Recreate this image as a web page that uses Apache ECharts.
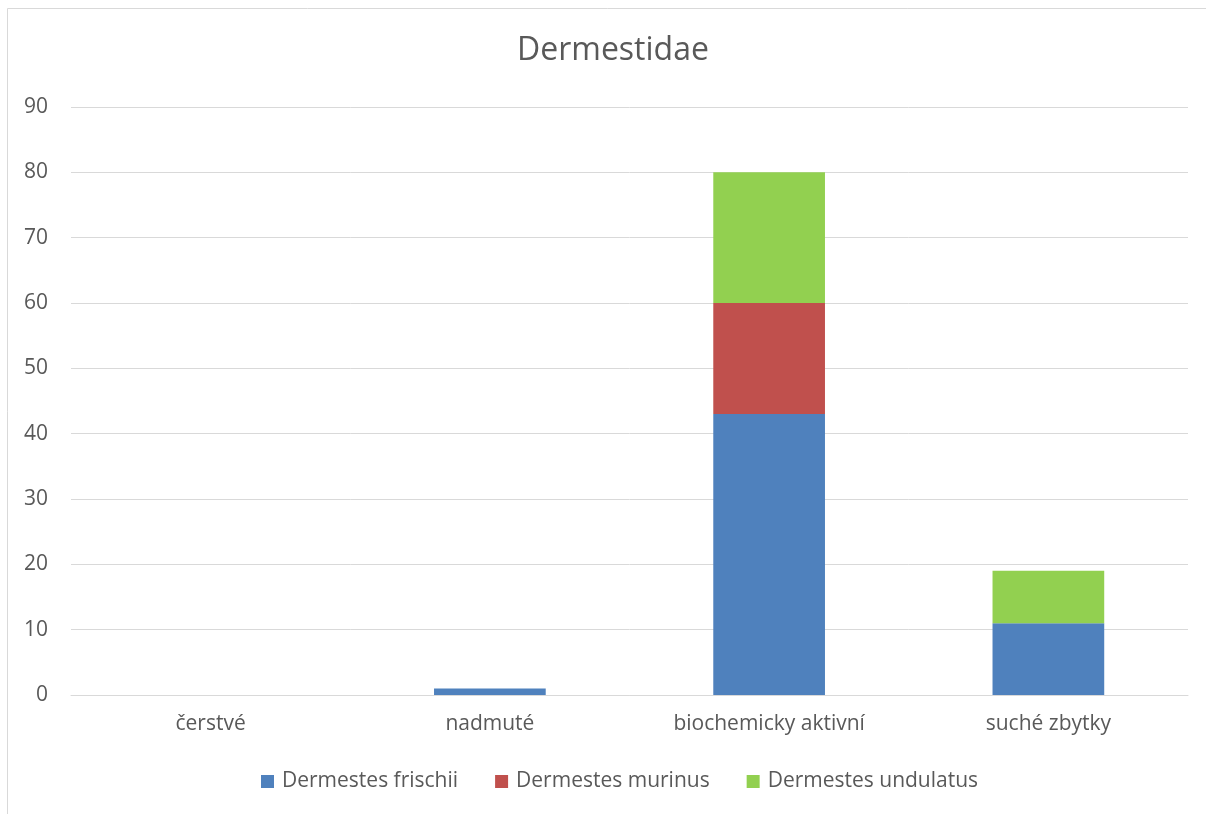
<!DOCTYPE html>
<html>
<head>
<meta charset="utf-8">
<script src="https://cdn.jsdelivr.net/npm/echarts@6/dist/echarts.min.js"></script>
<style>
  html, body { margin: 0; padding: 0; background: #ffffff; }
  #chart { width: 1206px; height: 814px; }
</style>
</head>
<body>
<div id="chart"></div>
<script>
// Decomposition stages and counts of Dermestidae species found at each
const categories = ['čerstvé', 'nadmuté', 'biochemicky aktivní', 'suché zbytky'];
const frischii = [0, 1, 43, 11];
const murinus = [0, 0, 17, 0];
const undulatus = [0, 0, 20, 8];
const seriesNames = ['Dermestes frischii', 'Dermestes murinus', 'Dermestes undulatus'];
const colors = ['#4f81bd', '#c0504d', '#92d050'];

const font = '"Open Sans", sans-serif';
const chart = echarts.init(document.getElementById('chart'), null, { renderer: 'canvas' });

const makeSeries = (name, data, color) => ({
  name, type: 'bar', stack: 'total', data,
  barWidth: '40%',
  itemStyle: { color },
  emphasis: { disabled: true }
});

chart.setOption({
  backgroundColor: '#ffffff',
  animation: false,
  color: colors,
  graphic: [{
    type: 'rect',
    shape: { x: 7.5, y: 8.5, width: 1300, height: 900 },
    style: { fill: 'none', stroke: '#d9d9d9', lineWidth: 1 },
    silent: true
  }],
  title: {
    text: 'Dermestidae',
    left: 512,
    top: 30,
    textStyle: { fontFamily: font, fontSize: 32, fontWeight: 'normal', color: '#595959' }
  },
  legend: {
    bottom: 17,
    left: 256,
    itemWidth: 13,
    itemHeight: 13,
    itemGap: 37,
    icon: 'rect',
    data: seriesNames,
    textStyle: { fontFamily: font, fontSize: 21, color: '#595959', padding: [0, 0, 0, 3] }
  },
  grid: { left: 71, right: 18, top: 107, bottom: 119, containLabel: false },
  xAxis: {
    type: 'category',
    data: categories,
    axisLine: { show: true, lineStyle: { color: '#d9d9d9', width: 1 } },
    axisTick: { show: false },
    axisLabel: { fontFamily: font, fontSize: 21, color: '#595959', margin: 19 }
  },
  yAxis: {
    type: 'value',
    min: 0, max: 90, interval: 10,
    axisLine: { show: false },
    axisTick: { show: false },
    splitLine: { lineStyle: { color: '#d9d9d9', width: 1 } },
    axisLabel: { fontFamily: font, fontSize: 21, color: '#595959', margin: 23 }
  },
  series: [
    makeSeries(seriesNames[0], frischii, colors[0]),
    makeSeries(seriesNames[1], murinus, colors[1]),
    makeSeries(seriesNames[2], undulatus, colors[2])
  ]
});
</script>
</body>
</html>
